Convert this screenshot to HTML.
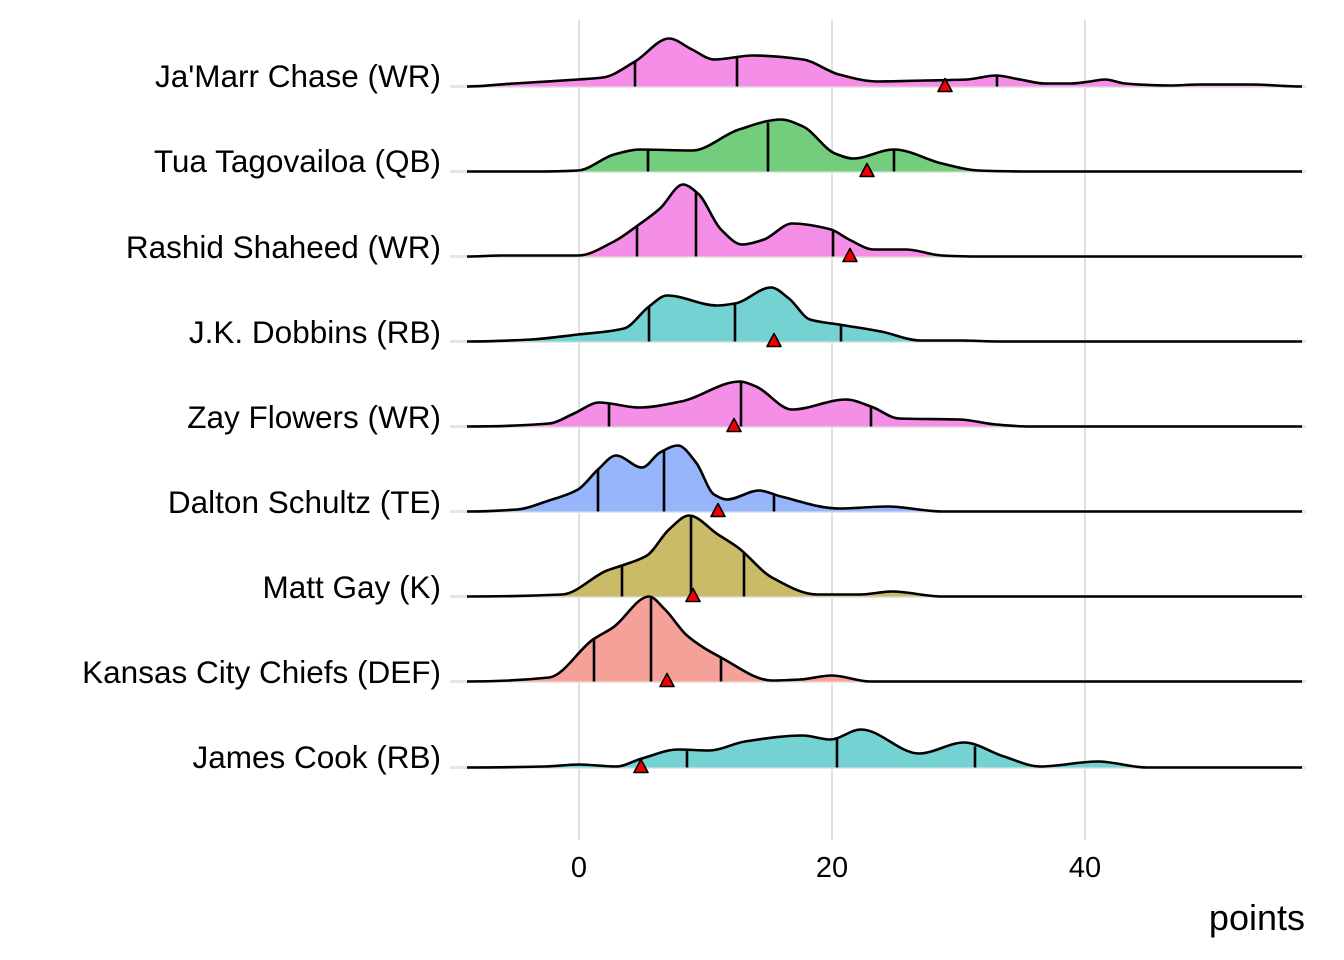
<!DOCTYPE html>
<html><head><meta charset="utf-8"><style>
html,body{margin:0;padding:0;background:#fff}
svg{display:block}
text{font-family:"Liberation Sans",Arial,sans-serif}
</style></head><body>
<svg id="s" width="1344" height="960" xmlns="http://www.w3.org/2000/svg">
<g stroke="#e0e0e0" stroke-width="2">
<line x1="579" y1="20" x2="579" y2="840"/>
<line x1="832" y1="20" x2="832" y2="840"/>
<line x1="1085" y1="20" x2="1085" y2="840"/>
</g>
<g id="r"></g>
<g font-size="31.5" fill="#000" text-anchor="end">
<text x="441" y="87">Ja'Marr Chase (WR)</text>
<text x="441" y="172">Tua Tagovailoa (QB)</text>
<text x="441" y="258">Rashid Shaheed (WR)</text>
<text x="441" y="343">J.K. Dobbins (RB)</text>
<text x="441" y="428">Zay Flowers (WR)</text>
<text x="441" y="513">Dalton Schultz (TE)</text>
<text x="441" y="598">Matt Gay (K)</text>
<text x="441" y="683">Kansas City Chiefs (DEF)</text>
<text x="441" y="768">James Cook (RB)</text>
</g>
<g font-size="29" fill="#000" text-anchor="middle">
<text x="579" y="877">0</text>
<text x="832" y="877">20</text>
<text x="1085" y="877">40</text>
</g>
<text x="1305" y="930" font-size="36" text-anchor="end">points</text>
</svg>
<script>
var R=[
{b:86.5,c:"#f58ee6",p:[[467,0],[514,3],[578,7],[603,9],[635,25],[669,48],[692,37],[714,27],[753,31],[803,27],[839,12],[878,5],[924,6],[967,7],[996,11],[1020,7],[1045,3],[1070,3],[1090,5],[1105,7],[1125,3],[1170,1],[1200,2],[1250,2],[1302,0]],q:[635,737,997],t:945},
{b:171.5,c:"#73cd7c",p:[[467,0],[540,0],[578,1],[614,17],[639,22],[692,21],[739,42],[781,52],[803,45],[835,18],[853,13],[894,22],[942,8],[978,1],[1030,0],[1302,0]],q:[648,768,894],t:867},
{b:256.5,c:"#f58ee6",p:[[467,0],[503,1],[578,1],[614,15],[639,32],[660,48],[683,72],[698,63],[721,27],[742,12],[764,17],[792,33],[831,27],[849,17],[874,7],[906,7],[942,1],[980,0],[1302,0]],q:[637,696,833],t:850},
{b:341.5,c:"#74d2d2",p:[[467,0],[531,2],[578,7],[624,13],[649,35],[667,46],[717,36],[735,38],[771,54],[789,43],[810,22],[839,17],[881,10],[921,1],[960,1],[1000,0],[1302,0]],q:[649,735,841],t:774},
{b:426.5,c:"#f58ee6",p:[[467,0],[549,3],[574,13],[599,24],[639,19],[681,25],[740,45],[756,40],[792,17],[846,27],[871,20],[899,8],[960,7],[996,2],[1030,0],[1302,0]],q:[609,741,871],t:734},
{b:511.5,c:"#97b5fb",p:[[467,0],[517,2],[549,11],[578,22],[598,42],[616,56],[642,44],[660,59],[678,66],[696,49],[714,17],[727,12],[759,21],[781,15],[839,3],[888,5],[942,0],[1302,0]],q:[598,664,774],t:718},
{b:596.5,c:"#cabb69",p:[[467,0],[562,2],[607,26],[622,31],[647,41],[669,67],[689,81],[718,62],[738,49],[772,19],[817,2],[860,2],[892,5],[942,0],[1302,0]],q:[622,691,744],t:693},
{b:681.5,c:"#f6a09a",p:[[467,0],[549,4],[593,42],[613,54],[649,85],[665,72],[687,46],[721,24],[772,1],[800,2],[832,6],[870,0],[1302,0]],q:[594,651,721],t:667},
{b:767.5,c:"#74d2d2",p:[[467,0],[545,1],[579,3],[616,1],[642,9],[678,18],[709,17],[745,26],[803,32],[830,28],[861,38],[919,14],[964,25],[1004,11],[1040,1],[1098,6],[1147,0],[1302,0]],q:[687,837,975],t:641}
];
var ns="http://www.w3.org/2000/svg",g=document.getElementById("r");
function el(n,a){var e=document.createElementNS(ns,n);for(var k in a)e.setAttribute(k,a[k]);g.appendChild(e);return e;}
function hAt(p,x){for(var i=0;i<p.length-1;i++){if(x>=p[i][0]&&x<=p[i+1][0]){var t=(x-p[i][0])/(p[i+1][0]-p[i][0]);return p[i][1]+t*(p[i+1][1]-p[i][1]);}}return 0;}
R.forEach(function(r){
 var P=r.p.map(function(a){return [a[0],r.b-a[1]];}),n=P.length;
 var h=[],d=[],T=[];
 for(var i=0;i<n-1;i++){h[i]=P[i+1][0]-P[i][0];d[i]=(P[i+1][1]-P[i][1])/h[i];}
 T[0]=0;T[n-1]=0;
 for(var i=1;i<n-1;i++){
  if(d[i-1]*d[i]<=0)T[i]=0;
  else T[i]=3*(h[i-1]+h[i])/((2*h[i]+h[i-1])/d[i-1]+(h[i]+2*h[i-1])/d[i]);
 }
 var s="M"+P[0][0]+","+P[0][1];
 for(var i=0;i<n-1;i++){
  var c1x=P[i][0]+h[i]/3,c1y=P[i][1]+T[i]*h[i]/3,c2x=P[i+1][0]-h[i]/3,c2y=P[i+1][1]-T[i+1]*h[i]/3;
  s+=" C"+c1x.toFixed(1)+","+c1y.toFixed(1)+" "+c2x.toFixed(1)+","+c2y.toFixed(1)+" "+P[i+1][0]+","+P[i+1][1];
 }
 el("line",{x1:450,y1:r.b,x2:1306,y2:r.b,stroke:"#e6e6e6","stroke-width":3});
 el("path",{d:s+" L1302,"+r.b+" L467,"+r.b+" Z",fill:r.c,stroke:"none"});
 r.q.forEach(function(x){el("line",{x1:x,y1:r.b,x2:x,y2:r.b-hAt(r.p,x),stroke:"#000","stroke-width":2.6});});
 el("path",{d:s,fill:"none",stroke:"#000","stroke-width":2.6});
 var t=r.t;
 el("path",{d:"M"+(t-7)+","+(r.b+5)+" L"+(t+7)+","+(r.b+5)+" L"+t+","+(r.b-8)+" Z",fill:"#ee0000",stroke:"#000","stroke-width":1.6,"stroke-linejoin":"round"});
});
</script>
</body></html>
